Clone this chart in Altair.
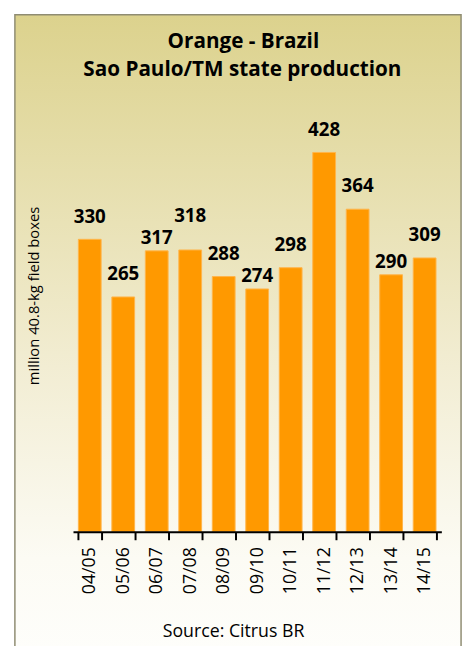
import altair as alt
import pandas as pd

SEASONS = ["04/05", "05/06", "06/07", "07/08", "08/09", "09/10",
           "10/11", "11/12", "12/13", "13/14", "14/15"]
PRODUCTION = [330, 265, 317, 318, 288, 274, 298, 428, 364, 290, 309]
TITLE_LINES = ["Orange - Brazil", "Sao Paulo/TM state production"]
Y_TITLE = "million 40.8-kg field boxes"
SOURCE = "Source: Citrus BR"

# label placement groups (labels nudged in the original to avoid overlaps)
LOW_LABELS = ["06/07", "09/10", "13/14"]
RAISED_LABELS = ["07/08"]

FONT = "Open Sans"

df = pd.DataFrame({"season": SEASONS, "value": PRODUCTION})

W, H = 374, 405

x_enc = alt.X(
    "season:N", sort=SEASONS,
    scale=alt.Scale(paddingInner=0.32, paddingOuter=0.16),
    axis=alt.Axis(title=None, labelAngle=-90, labelFontSize=18, labelFont=FONT,
                  labelColor="black", domainColor="black", domainWidth=2,
                  tickColor="black", tickWidth=2, tickSize=8, labelPadding=7,
                  tickBand="extent", grid=False, zindex=2),
)
y_enc = alt.Y(
    "value:Q", scale=alt.Scale(domain=[0, 450], nice=False),
    axis=alt.Axis(title=Y_TITLE, titleFont=FONT, titleFontSize=15,
                  titleFontWeight="normal", titleColor="black",
                  domain=False, ticks=False, labels=False, grid=False,
                  titlePadding=32, titleY=165, zindex=2),
)

gradient = alt.LinearGradient(
    gradient="linear", x1=0, x2=0, y1=0, y2=1,
    stops=[alt.GradientStop(color="#DCD28D", offset=0),
           alt.GradientStop(color="#F2EDD3", offset=0.55),
           alt.GradientStop(color="#FCFBF4", offset=0.85),
           alt.GradientStop(color="#FEFEFB", offset=1)],
)

panel = alt.Chart(pd.DataFrame({"p": [0]})).mark_rect(
    color=gradient, stroke="#8F8C72", strokeWidth=1.5
).encode(
    x=alt.value(-59), x2=alt.value(394),
    y=alt.value(-120), y2=alt.value(530),
)

bars = alt.Chart(df).mark_bar(
    color="#FF9900", stroke="#FFB54A", strokeWidth=1
).encode(x=x_enc, y=y_enc)

def labels(filter_expr, dy):
    return alt.Chart(df).transform_filter(filter_expr).mark_text(
        font=FONT, fontSize=19, fontWeight="bold", color="black",
        baseline="alphabetic", dy=dy
    ).encode(x=alt.X("season:N", sort=SEASONS), y="value:Q", text="value:Q")

special = LOW_LABELS + RAISED_LABELS
normal_labels = labels(~alt.FieldOneOfPredicate(field="season", oneOf=special), -17)
low_labels = labels(alt.FieldOneOfPredicate(field="season", oneOf=LOW_LABELS), -7)
raised_labels = labels(alt.FieldOneOfPredicate(field="season", oneOf=RAISED_LABELS), -28)

def free_text(txt, x, y, size, weight="normal"):
    return alt.Chart(pd.DataFrame({"t": [txt]})).mark_text(
        font=FONT, fontSize=size, fontWeight=weight, color="black",
        baseline="alphabetic", align="center"
    ).encode(x=alt.value(x), y=alt.value(y), text="t:N")

title1 = free_text(TITLE_LINES[0], 173, -86, 21, "bold")
title2 = free_text(TITLE_LINES[1], 172, -58, 21, "bold")
source = free_text(SOURCE, 163, 512, 18)

chart = alt.layer(
    panel, bars, normal_labels, low_labels, raised_labels,
    title1, title2, source
).properties(
    width=W, height=H,
    autosize=alt.AutoSizeParams(type="none"),
    padding={"left": 66, "top": 122, "right": 24, "bottom": 111},
).configure_view(stroke=None).configure(background="white")

chart.save("out.html", embed_options={"renderer": "svg", "actions": False})
